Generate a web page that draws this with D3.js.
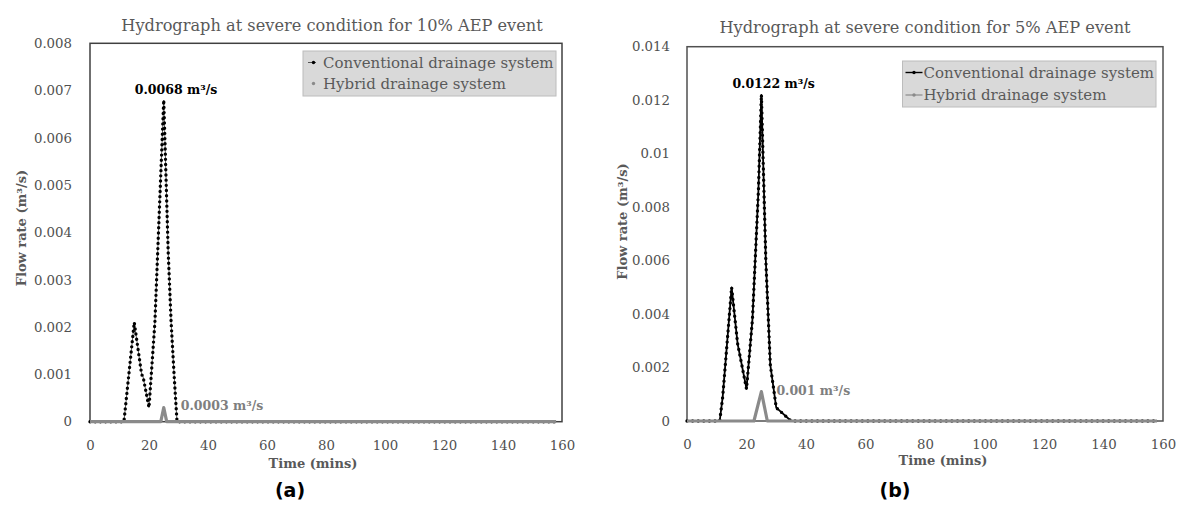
<!DOCTYPE html>
<html><head><meta charset="utf-8">
<script src="https://cdn.jsdelivr.net/npm/d3@7/dist/d3.min.js"></script>
<style>
html,body{margin:0;padding:0;background:#fff;}
svg{display:block;}
</style></head>
<body>
<svg id="chart" width="1177" height="510"></svg>
<script>
// ---------- DATA ----------
const seriesNames = ["Conventional drainage system", "Hybrid drainage system"];
const xTickValues = [0, 20, 40, 60, 80, 100, 120, 140, 160];
const xTickLabels = ["0", "20", "40", "60", "80", "100", "120", "140", "160"];

// Panel (a): 10% AEP
const titleA = "Hydrograph at severe condition for 10% AEP event";
const yTicksA = [0, 0.001, 0.002, 0.003, 0.004, 0.005, 0.006, 0.007, 0.008];
const yTickLabelsA = ["0", "0.001", "0.002", "0.003", "0.004", "0.005", "0.006", "0.007", "0.008"];
const timeConvA = [0, 11.5, 15, 17.5, 18, 20, 22, 25, 26.5, 27.5, 28.5, 29.5, 158];
const flowConvA = [0, 0, 0.0021, 0.001, 0.00095, 0.0003, 0.0021, 0.0068, 0.0036, 0.0021, 0.001, 0, 0];
const timeHybA = [0, 24, 25, 26, 158];
const flowHybA = [0, 0, 0.0003, 0, 0];
const peakLabelsA = ["0.0068 m³/s", "0.0003 m³/s"];

// Panel (b): 5% AEP
const titleB = "Hydrograph at severe condition for 5% AEP event";
const yTicksB = [0, 0.002, 0.004, 0.006, 0.008, 0.01, 0.012, 0.014];
const yTickLabelsB = ["0", "0.002", "0.004", "0.006", "0.008", "0.01", "0.012", "0.014"];
const timeConvB = [0, 11, 12, 15, 17, 20, 22, 24, 25, 26.5, 28, 30, 35, 158];
const flowConvB = [0, 0, 0.0009, 0.005, 0.0029, 0.0012, 0.0038, 0.0086, 0.0122, 0.006, 0.0021, 0.0005, 0, 0];
const timeHybB = [0, 22.5, 25, 27, 158];
const flowHybB = [0, 0, 0.0011, 0, 0];
const peakLabelsB = ["0.0122 m³/s", "0.001 m³/s"];

const xTitle = "Time (mins)";
const yTitle = "Flow rate (m³/s)";
const panelLetters = ["(a)", "(b)"];

// ---------- DRAW ----------
const svg = d3.select("#chart");
const SERIF = "'DejaVu Serif', serif";
const GREY_TXT = "#595959";

function zip(t, v) { return t.map((d, i) => ({ t: d, v: v[i] })); }

function panel(cfg) {
  const x = d3.scaleLinear().domain([0, 160]).range([cfg.left, cfg.right]);
  const y = d3.scaleLinear().domain([0, cfg.yMax]).range([cfg.bottom, cfg.top]);
  const g = svg.append("g");

  // frame
  g.append("rect")
    .attr("x", cfg.left).attr("y", cfg.top)
    .attr("width", cfg.right - cfg.left).attr("height", cfg.bottom - cfg.top)
    .attr("fill", "none").attr("stroke", cfg.frame).attr("stroke-width", 1.5);

  // axes (labels only)
  const yAxis = d3.axisLeft(y).tickValues(cfg.yTicks)
    .tickFormat((d, i) => cfg.yLabels[i]).tickSize(0).tickPadding(cfg.left - cfg.yLabelRight);
  const ya = g.append("g").attr("transform", `translate(${cfg.left},0)`).call(yAxis);
  ya.select(".domain").remove();
  ya.selectAll("text").attr("font-family", SERIF).attr("font-size", 13.3).attr("fill", "#505050");

  const xAxis = d3.axisBottom(x).tickValues(xTickValues)
    .tickFormat((d, i) => xTickLabels[i]).tickSize(0).tickPadding(19);
  const xa = g.append("g").attr("transform", `translate(0,${cfg.bottom})`).call(xAxis);
  xa.select(".domain").remove();
  xa.selectAll("text").attr("font-family", SERIF).attr("font-size", 13.3).attr("fill", "#505050");

  const line = d3.line().x(d => x(d.t)).y(d => y(d.v));
  const conv = zip(cfg.tConv, cfg.vConv);
  const hyb = zip(cfg.tHyb, cfg.vHyb);

  // conventional: line + dense round markers
  g.append("path").datum(conv).attr("d", line)
    .attr("fill", "none").attr("stroke", cfg.convLine).attr("stroke-width", cfg.convLineW)
    .attr("stroke-linejoin", "round");
  g.append("path").datum(conv).attr("d", line)
    .attr("fill", "none").attr("stroke", "#000").attr("stroke-width", 3.4)
    .attr("stroke-linecap", "round").attr("stroke-dasharray", cfg.dotGap);

  // hybrid
  g.append("path").datum(hyb).attr("d", line)
    .attr("fill", "none").attr("stroke", "#8a8a8a").attr("stroke-width", 3.2)
    .attr("stroke-linejoin", "round");

  // title
  g.append("text").attr("x", cfg.titleX).attr("y", cfg.titleY)
    .attr("text-anchor", "middle").attr("font-family", SERIF).attr("font-size", 16.2)
    .attr("fill", GREY_TXT).text(cfg.title);

  // axis titles
  g.append("text").attr("x", cfg.xTitleX).attr("y", cfg.xTitleY)
    .attr("text-anchor", "middle").attr("font-family", SERIF).attr("font-size", 13)
    .attr("font-weight", "bold").attr("fill", GREY_TXT).text(xTitle);
  g.append("text")
    .attr("transform", `translate(${cfg.yTitleX},${cfg.yTitleY}) rotate(-90)`)
    .attr("text-anchor", "middle").attr("dy", "0.35em").attr("font-family", SERIF).attr("font-size", 13)
    .attr("font-weight", "bold").attr("fill", GREY_TXT).text(yTitle);

  // peak labels
  const pc = conv.reduce((a, b) => (b.v > a.v ? b : a));
  const ph = hyb.reduce((a, b) => (b.v > a.v ? b : a));
  g.append("text").attr("x", x(pc.t) + cfg.pcDx).attr("y", y(pc.v) + cfg.pcDy)
    .attr("font-family", SERIF).attr("font-size", 12.5).attr("font-weight", "bold")
    .attr("fill", "#000").text(cfg.peakLabels[0]);
  g.append("text").attr("x", x(ph.t) + cfg.phDx).attr("y", y(ph.v) + cfg.phDy)
    .attr("font-family", SERIF).attr("font-size", 12.5).attr("font-weight", "bold")
    .attr("fill", "#7f7f7f").text(cfg.peakLabels[1]);

  // legend
  const L = cfg.legend;
  g.append("rect").attr("x", L.x).attr("y", L.y).attr("width", L.w).attr("height", L.h)
    .attr("fill", "#d9d9d9").attr("stroke", "#bcbcbc").attr("stroke-width", 1);
  seriesNames.forEach((name, i) => {
    const cy = L.y + L.row0 + i * L.rowStep;
    if (cfg.legendLine) {
      g.append("line").attr("x1", L.x + 3).attr("x2", L.x + 20).attr("y1", cy).attr("y2", cy)
        .attr("stroke", i === 0 ? "#000" : "#8a8a8a").attr("stroke-width", i === 0 ? 1.4 : 1.2);
    } else if (i === 0) {
      g.append("line").attr("x1", L.x + 5).attr("x2", L.x + 13).attr("y1", cy).attr("y2", cy)
        .attr("stroke", "#555").attr("stroke-width", 1);
    }
    g.append("circle").attr("cx", L.x + (cfg.legendLine ? 11.5 : 10.5)).attr("cy", cy).attr("r", 1.7)
      .attr("fill", i === 0 ? "#000" : "#8a8a8a");
    g.append("text").attr("x", L.x + L.textDx).attr("y", cy).attr("dy", "0.35em")
      .attr("font-family", SERIF).attr("font-size", 15).attr("fill", GREY_TXT).text(name);
  });

  // panel letter
  svg.append("text").attr("x", cfg.letterX).attr("y", 497).attr("text-anchor", "middle")
    .attr("font-family", "'DejaVu Sans', sans-serif").attr("font-weight", "bold").attr("font-size", 19)
    .attr("fill", "#000").text(cfg.letter);
}

panel({
  left: 90, right: 562, top: 43.3, bottom: 421.7, yMax: 0.008,
  yTicks: yTicksA, yLabels: yTickLabelsA, yLabelRight: 72,
  tConv: timeConvA, vConv: flowConvA, tHyb: timeHybA, vHyb: flowHybA,
  convLine: "#666", convLineW: 1, dotGap: "0 5.2",
  frame: "#404040",
  title: titleA, titleX: 332, titleY: 30.5,
  xTitleX: 313, xTitleY: 468, yTitleX: 21, yTitleY: 228,
  peakLabels: peakLabelsA, pcDx: -29, pcDy: -6, phDx: 17, phDy: 2,
  legend: { x: 303, y: 51, w: 253, h: 45, row0: 11.5, rowStep: 21, textDx: 20 },
  legendLine: false,
  letter: panelLetters[0], letterX: 290
});

panel({
  left: 687, right: 1163, top: 46.7, bottom: 421, yMax: 0.014,
  yTicks: yTicksB, yLabels: yTickLabelsB, yLabelRight: 670,
  tConv: timeConvB, vConv: flowConvB, tHyb: timeHybB, vHyb: flowHybB,
  convLine: "#000", convLineW: 1.8, dotGap: "0 5.6",
  frame: "#505050",
  title: titleB, titleX: 925, titleY: 32.5,
  xTitleX: 943, xTitleY: 464.5, yTitleX: 622, yTitleY: 221.5,
  peakLabels: peakLabelsB, pcDx: -29, pcDy: -7, phDx: 15, phDy: 3,
  legend: { x: 902.5, y: 61, w: 253.5, h: 46, row0: 11.5, rowStep: 22.5, textDx: 21 },
  legendLine: true,
  letter: panelLetters[1], letterX: 895
});
</script>
</body></html>
